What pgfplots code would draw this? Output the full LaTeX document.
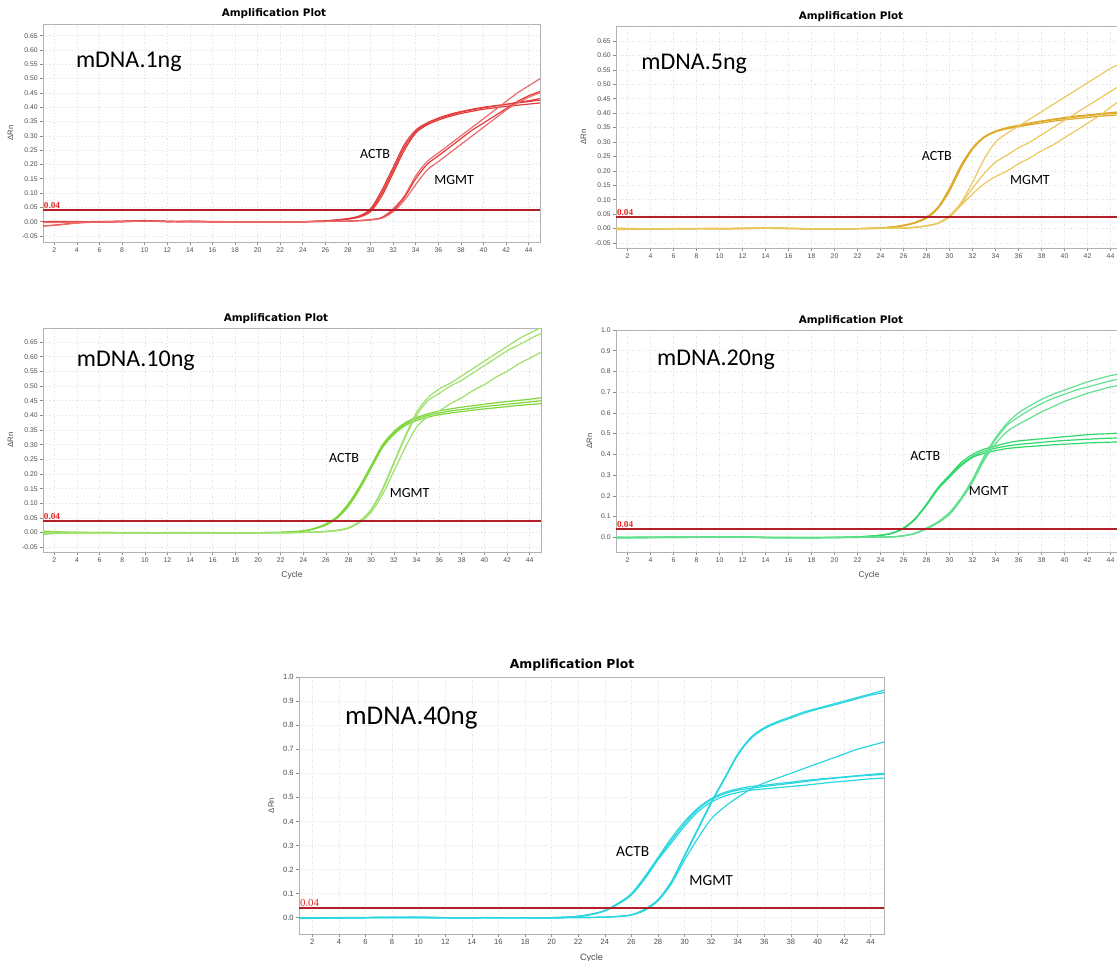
\documentclass[border=0pt]{standalone}
\usepackage{fontspec}
\setmainfont{Liberation Sans}
\newfontfamily\carlito{Carlito}
\newfontfamily\dejavu{DejaVu Sans}
\newfontfamily\libserif{Liberation Serif}
\usepackage{pgfplots}
\pgfplotsset{compat=1.18}

\definecolor{thr}{HTML}{B41E28}
\definecolor{thrtxt}{HTML}{E62828}
\definecolor{cR}{HTML}{E23C3C}
\definecolor{cRl}{HTML}{EC6A6A}
\definecolor{cY}{HTML}{DDAA2A}
\definecolor{cYl}{HTML}{EBC860}
\definecolor{cG}{HTML}{7ED63A}
\definecolor{cGl}{HTML}{9EE06A}
\definecolor{cE}{HTML}{2ED86A}
\definecolor{cEl}{HTML}{62E090}
\definecolor{cC}{HTML}{2AD6E0}

\pgfplotsset{
 amp/.style={scale only axis, xmin=1, xmax=45, xtick={2,4,...,44},
   grid=major, major grid style={black!11, line width=0.3pt, dash pattern=on 0.6pt off 1pt},
   axis line style={black!30, line width=0.4pt},
   tick style={black!45, line width=0.3pt}, major tick length=1.5pt, tick align=outside,
   xtick pos=left, ytick pos=left,
   ticklabel style={font=\fontsize{3.4}{4}\selectfont, text=black!70},
   /pgf/number format/assume math mode=true,
   xticklabel style={inner sep=1pt},
   yticklabel style={inner sep=1pt},
   ylabel={ΔRn}, ylabel style={font=\fontsize{3.9}{4}\selectfont, text=black!70},
   xlabel style={font=\fontsize{4.2}{5}\selectfont, text=black!70},
 },
 smallticks/.style={ytick={-0.05,0,0.05,0.1,0.15,0.2,0.25,0.3,0.35,0.4,0.45,0.5,0.55,0.6,0.65},
   yticklabel style={/pgf/number format/.cd, fixed, fixed zerofill, precision=2}},
 bigticks/.style={ytick={0,0.1,0.2,0.3,0.4,0.5,0.6,0.7,0.8,0.9,1.0},
   yticklabel style={/pgf/number format/.cd, fixed, fixed zerofill, precision=1}},
}

\tikzset{
 cur/.style={line width=0.6pt, smooth},
 thrline/.style={draw=thr, line width=1.1pt},
 thrlab/.style={anchor=south west, inner sep=0.3pt, yshift=0.3pt, text=thrtxt, font=\libserif\bfseries\fontsize{4.6}{5}\selectfont},
 ttl/.style={font=\dejavu\bfseries\fontsize{5.2}{6}\selectfont},
 namelab/.style={font=\carlito\fontsize{12}{14}\selectfont},
 genelab/.style={font=\carlito\fontsize{7}{8}\selectfont},
}

\begin{document}
\begin{tikzpicture}
\path[use as bounding box] (0,0) rectangle (558.5pt,480pt);
\clip (0,0) rectangle (558.5pt,480pt);

% ---------------- Panel 1: mDNA.1ng
\begin{axis}[amp, smallticks, anchor=south west, at={(21.5pt,359pt)}, width=248.5pt, height=109pt,
  ymin=-0.071, ymax=0.691]
\addplot[cur, cR] coordinates {(1,-0.015)(2,-0.012)(3,-0.008)(4,-0.004)(6,0)(8,0.001)(10,0.003)(12,0.001)(14,0.001)(16,0)(18,0)(20,0)(22,0)(24,0)(25,0.001)(26,0.003)(27,0.006)(28,0.011)(29,0.02)(30,0.045)(31,0.11)(32,0.19)(33,0.27)(34,0.32)(35,0.345)(36,0.362)(37,0.375)(38,0.385)(39,0.393)(40,0.40)(41,0.405)(42,0.41)(43,0.415)(44,0.42)(45,0.425)};
\addplot[cur, cR] coordinates {(1,0)(3,-0.002)(5,-0.002)(7,0)(9,0.002)(10,0.004)(12,0)(14,0.002)(16,0)(20,0)(24,0)(25,0.001)(26,0.002)(27,0.005)(28,0.009)(29,0.016)(30,0.035)(31,0.09)(32,0.17)(33,0.25)(34,0.31)(35,0.338)(36,0.355)(37,0.368)(38,0.378)(39,0.386)(40,0.393)(41,0.398)(42,0.403)(43,0.407)(44,0.411)(45,0.415)};
\addplot[cur, cR] coordinates {(1,0)(3,0.001)(5,0)(7,-0.001)(9,0.001)(11,0.002)(13,0)(15,0.001)(18,0)(22,0)(24,0)(25,0.001)(26,0.003)(27,0.006)(28,0.01)(29,0.018)(30,0.04)(31,0.10)(32,0.18)(33,0.26)(34,0.315)(35,0.342)(36,0.36)(37,0.372)(38,0.383)(39,0.391)(40,0.398)(41,0.404)(42,0.41)(43,0.417)(44,0.423)(45,0.43)};
\addplot[cur, cRl] coordinates {(1,-0.015)(2,-0.013)(3,-0.009)(4,-0.005)(6,-0.001)(8,0)(10,0.002)(12,0)(14,0.001)(16,0)(20,0)(24,0)(26,0.001)(28,0.002)(29,0.004)(30,0.007)(31,0.015)(32,0.045)(33,0.09)(34,0.16)(35,0.21)(36,0.24)(37,0.27)(38,0.30)(39,0.33)(40,0.36)(41,0.39)(42,0.42)(43,0.45)(44,0.475)(45,0.50)};
\addplot[cur, cR] coordinates {(1,0)(4,0)(7,0.001)(10,0.003)(13,0)(16,0)(20,0)(24,0)(26,0.001)(28,0.002)(29,0.004)(30,0.007)(31,0.014)(32,0.04)(33,0.085)(34,0.15)(35,0.20)(36,0.23)(37,0.26)(38,0.29)(39,0.32)(40,0.345)(41,0.37)(42,0.395)(43,0.42)(44,0.44)(45,0.455)};
\addplot[cur, cRl] coordinates {(1,-0.003)(4,-0.002)(7,0)(10,0.002)(13,0.001)(16,0)(20,0)(24,0)(26,0.001)(28,0.002)(29,0.003)(30,0.006)(31,0.012)(32,0.035)(33,0.075)(34,0.13)(35,0.18)(36,0.21)(37,0.24)(38,0.27)(39,0.30)(40,0.33)(41,0.36)(42,0.39)(43,0.415)(44,0.435)(45,0.45)};
\addplot[thrline] coordinates {(1,0.04)(45,0.04)};
\node[thrlab] at (axis cs:1,0.04) {0.04};
\node[namelab] at (axis cs:8.6,0.56) {mDNA.1ng};
\node[genelab] at (axis cs:30.4,0.235) {ACTB};
\node[genelab] at (axis cs:37.4,0.147) {MGMT};
\end{axis}

% ---------------- Panel 2: mDNA.5ng
\begin{axis}[amp, smallticks, anchor=south west, at={(308pt,356pt)}, width=253pt, height=111pt,
  ymin=-0.067, ymax=0.702]
\addplot[cur, cY] coordinates {(1,-0.003)(3,-0.002)(5,-0.001)(8,0)(11,0)(14,0.002)(17,0)(20,0)(22,0)(23,0.001)(24,0.003)(25,0.006)(26,0.012)(27,0.022)(28,0.04)(29,0.075)(30,0.14)(31,0.22)(32,0.28)(33,0.318)(34,0.338)(35,0.35)(36,0.358)(37,0.366)(38,0.373)(39,0.379)(40,0.385)(41,0.39)(42,0.394)(43,0.398)(44,0.402)(45,0.405)};
\addplot[cur, cY] coordinates {(1,0.002)(3,0)(5,0)(8,0.001)(11,0)(14,0.001)(17,0)(20,0)(22,0)(23,0.001)(24,0.002)(25,0.005)(26,0.011)(27,0.02)(28,0.036)(29,0.07)(30,0.13)(31,0.21)(32,0.275)(33,0.315)(34,0.335)(35,0.347)(36,0.356)(37,0.364)(38,0.371)(39,0.377)(40,0.382)(41,0.387)(42,0.391)(43,0.395)(44,0.398)(45,0.40)};
\addplot[cur, cY] coordinates {(1,0)(3,-0.001)(5,0)(8,0)(11,0.001)(14,0.002)(17,0)(20,0)(22,0)(23,0.001)(24,0.002)(25,0.005)(26,0.01)(27,0.02)(28,0.038)(29,0.072)(30,0.135)(31,0.215)(32,0.278)(33,0.316)(34,0.336)(35,0.346)(36,0.353)(37,0.36)(38,0.366)(39,0.372)(40,0.377)(41,0.381)(42,0.385)(43,0.389)(44,0.392)(45,0.395)};
\addplot[cur, cYl] coordinates {(1,0)(4,-0.001)(8,0)(12,0)(14,0.002)(18,0)(22,0)(24,0.001)(26,0.002)(27,0.005)(28,0.01)(29,0.02)(30,0.045)(31,0.09)(32,0.16)(33,0.24)(34,0.30)(35,0.33)(36,0.355)(37,0.38)(38,0.405)(39,0.43)(40,0.455)(41,0.48)(42,0.505)(43,0.53)(44,0.555)(45,0.575)};
\addplot[cur, cYl] coordinates {(1,0)(4,0)(8,0)(12,0.001)(14,0.001)(18,0)(22,0)(24,0.001)(26,0.002)(27,0.005)(28,0.01)(29,0.019)(30,0.042)(31,0.085)(32,0.14)(33,0.19)(34,0.23)(35,0.255)(36,0.28)(37,0.30)(38,0.325)(39,0.35)(40,0.375)(41,0.40)(42,0.425)(43,0.45)(44,0.475)(45,0.50)};
\addplot[cur, cYl] coordinates {(1,-0.002)(4,0)(8,0)(12,0)(14,0.002)(18,0)(22,0)(24,0.001)(26,0.002)(27,0.004)(28,0.009)(29,0.018)(30,0.04)(31,0.08)(32,0.12)(33,0.155)(34,0.18)(35,0.20)(36,0.225)(37,0.245)(38,0.27)(39,0.29)(40,0.315)(41,0.34)(42,0.365)(43,0.39)(44,0.42)(45,0.45)};
\addplot[thrline] coordinates {(1,0.04)(45,0.04)};
\node[thrlab] at (axis cs:1,0.04) {0.04};
\node[namelab] at (axis cs:7.8,0.57) {mDNA.5ng};
\node[genelab] at (axis cs:28.9,0.252) {ACTB};
\node[genelab] at (axis cs:37.0,0.169) {MGMT};
\end{axis}

% ---------------- Panel 3: mDNA.10ng
\begin{axis}[amp, smallticks, anchor=south west, at={(21.5pt,204pt)}, width=249pt, height=112pt,
  ymin=-0.066, ymax=0.698, xlabel={Cycle}]
\addplot[cur, cG] coordinates {(1,0.005)(2,0.004)(3,0.002)(5,0.001)(8,0)(11,0)(14,0)(17,0)(20,0)(22,0.001)(23,0.003)(24,0.006)(25,0.015)(26,0.03)(27,0.055)(28,0.10)(29,0.16)(30,0.23)(31,0.30)(32,0.345)(33,0.375)(34,0.393)(35,0.405)(36,0.415)(37,0.422)(38,0.428)(39,0.433)(40,0.438)(41,0.443)(42,0.447)(43,0.451)(44,0.455)(45,0.46)};
\addplot[cur, cG] coordinates {(1,-0.005)(2,-0.003)(3,-0.001)(5,0)(8,0.001)(11,0)(14,0)(17,0)(20,0)(22,0.001)(23,0.003)(24,0.006)(25,0.014)(26,0.028)(27,0.052)(28,0.095)(29,0.155)(30,0.225)(31,0.295)(32,0.34)(33,0.37)(34,0.388)(35,0.40)(36,0.408)(37,0.415)(38,0.42)(39,0.425)(40,0.43)(41,0.434)(42,0.438)(43,0.442)(44,0.446)(45,0.45)};
\addplot[cur, cG] coordinates {(1,0)(2,0.001)(3,0)(5,0)(8,0)(11,0)(14,0.001)(17,0)(20,0)(22,0.001)(23,0.002)(24,0.005)(25,0.013)(26,0.026)(27,0.05)(28,0.09)(29,0.15)(30,0.22)(31,0.29)(32,0.335)(33,0.365)(34,0.382)(35,0.394)(36,0.402)(37,0.408)(38,0.413)(39,0.418)(40,0.422)(41,0.426)(42,0.43)(43,0.434)(44,0.437)(45,0.44)};
\addplot[cur, cGl] coordinates {(1,0.003)(3,0.001)(5,0)(8,0)(11,0)(14,0)(17,0)(20,0)(23,0)(25,0.002)(26,0.004)(27,0.008)(28,0.017)(29,0.04)(30,0.08)(31,0.15)(32,0.24)(33,0.33)(34,0.41)(35,0.46)(36,0.49)(37,0.51)(38,0.535)(39,0.56)(40,0.585)(41,0.61)(42,0.635)(43,0.66)(44,0.68)(45,0.70)};
\addplot[cur, cGl] coordinates {(1,-0.003)(3,-0.001)(5,0)(8,0)(11,0)(14,0)(17,0)(20,0)(23,0)(25,0.002)(26,0.004)(27,0.008)(28,0.016)(29,0.038)(30,0.078)(31,0.145)(32,0.235)(33,0.325)(34,0.40)(35,0.45)(36,0.475)(37,0.50)(38,0.52)(39,0.545)(40,0.57)(41,0.595)(42,0.62)(43,0.64)(44,0.66)(45,0.68)};
\addplot[cur, cGl] coordinates {(1,0)(3,0)(5,0.001)(8,0)(11,0)(14,0)(17,0)(20,0)(23,0)(25,0.002)(26,0.004)(27,0.007)(28,0.015)(29,0.035)(30,0.07)(31,0.13)(32,0.21)(33,0.29)(34,0.36)(35,0.395)(36,0.415)(37,0.44)(38,0.46)(39,0.485)(40,0.505)(41,0.53)(42,0.55)(43,0.575)(44,0.595)(45,0.615)};
\addplot[thrline] coordinates {(1,0.04)(45,0.04)};
\node[thrlab] at (axis cs:1,0.04) {0.04};
\node[namelab] at (axis cs:9.2,0.585) {mDNA.10ng};
\node[genelab] at (axis cs:27.6,0.253) {ACTB};
\node[genelab] at (axis cs:33.4,0.136) {MGMT};
\end{axis}

% ---------------- Panel 4: mDNA.20ng
\begin{axis}[amp, bigticks, anchor=south west, at={(308pt,204pt)}, width=253pt, height=111pt,
  ymin=-0.071, ymax=1.0, xlabel={Cycle}]
\addplot[cur, cE] coordinates {(1,-0.003)(3,-0.002)(6,-0.001)(9,0)(12,0.001)(15,-0.002)(18,-0.002)(20,-0.001)(21,0)(22,0.002)(23,0.005)(24,0.01)(25,0.02)(26,0.045)(27,0.09)(28,0.16)(29,0.24)(30,0.30)(31,0.36)(32,0.40)(33,0.425)(34,0.44)(35,0.455)(36,0.465)(37,0.47)(38,0.475)(39,0.48)(40,0.485)(41,0.49)(42,0.495)(43,0.498)(44,0.50)(45,0.505)};
\addplot[cur, cE] coordinates {(1,0)(3,-0.001)(6,0)(9,0.001)(12,0)(15,-0.001)(18,-0.002)(20,-0.001)(21,0)(22,0.002)(23,0.005)(24,0.01)(25,0.02)(26,0.043)(27,0.088)(28,0.158)(29,0.236)(30,0.295)(31,0.35)(32,0.39)(33,0.415)(34,0.43)(35,0.44)(36,0.448)(37,0.453)(38,0.458)(39,0.463)(40,0.467)(41,0.47)(42,0.473)(43,0.476)(44,0.478)(45,0.48)};
\addplot[cur, cE] coordinates {(1,-0.002)(3,0)(6,0)(9,0)(12,0.001)(15,-0.001)(18,-0.001)(20,-0.001)(21,0)(22,0.002)(23,0.004)(24,0.009)(25,0.019)(26,0.042)(27,0.086)(28,0.155)(29,0.232)(30,0.29)(31,0.345)(32,0.385)(33,0.405)(34,0.418)(35,0.428)(36,0.434)(37,0.438)(38,0.442)(39,0.446)(40,0.449)(41,0.452)(42,0.455)(43,0.457)(44,0.459)(45,0.46)};
\addplot[cur, cEl] coordinates {(1,-0.003)(3,-0.002)(6,-0.001)(9,0)(12,0)(15,-0.002)(18,-0.002)(21,-0.001)(23,0)(24,0.001)(25,0.002)(26,0.008)(27,0.02)(28,0.045)(29,0.075)(30,0.12)(31,0.19)(32,0.28)(33,0.39)(34,0.48)(35,0.55)(36,0.60)(37,0.635)(38,0.665)(39,0.69)(40,0.71)(41,0.73)(42,0.75)(43,0.765)(44,0.78)(45,0.79)};
\addplot[cur, cEl] coordinates {(1,0)(3,0)(6,0)(9,0)(12,0)(15,-0.001)(18,-0.001)(21,-0.001)(23,0)(24,0.001)(25,0.002)(26,0.007)(27,0.019)(28,0.043)(29,0.072)(30,0.115)(31,0.185)(32,0.275)(33,0.38)(34,0.47)(35,0.54)(36,0.58)(37,0.615)(38,0.645)(39,0.67)(40,0.69)(41,0.71)(42,0.725)(43,0.74)(44,0.755)(45,0.765)};
\addplot[cur, cEl] coordinates {(1,-0.002)(3,0)(6,0)(9,0.001)(12,0)(15,-0.001)(18,-0.001)(21,0)(23,0)(24,0.001)(25,0.002)(26,0.007)(27,0.018)(28,0.04)(29,0.07)(30,0.11)(31,0.18)(32,0.265)(33,0.37)(34,0.45)(35,0.51)(36,0.545)(37,0.575)(38,0.605)(39,0.63)(40,0.655)(41,0.675)(42,0.695)(43,0.71)(44,0.725)(45,0.735)};
\addplot[thrline] coordinates {(1,0.04)(45,0.04)};
\node[thrlab] at (axis cs:1,0.04) {0.04};
\node[namelab] at (axis cs:9.7,0.858) {mDNA.20ng};
\node[genelab] at (axis cs:27.9,0.391) {ACTB};
\node[genelab] at (axis cs:33.4,0.225) {MGMT};
\end{axis}

% ---------------- Panel 5: mDNA.40ng
\begin{axis}[amp, bigticks, anchor=south west, at={(149.5pt,13pt)}, width=292.5pt, height=128.5pt,
  ymin=-0.068, ymax=1.0, xlabel={Cycle},
  ticklabel style={font=\fontsize{3.8}{4}\selectfont}, xlabel style={font=\fontsize{4.6}{5}\selectfont}]
\addplot[cur, cC] coordinates {(1,-0.004)(3,-0.002)(6,0)(9,0.001)(10,0.002)(12,-0.001)(15,0)(18,-0.001)(20,0)(21,0.002)(22,0.006)(23,0.015)(24,0.03)(25,0.06)(26,0.10)(27,0.17)(28,0.25)(29,0.33)(30,0.40)(31,0.455)(32,0.495)(33,0.52)(34,0.535)(35,0.545)(36,0.55)(37,0.557)(38,0.563)(39,0.57)(40,0.575)(41,0.58)(42,0.585)(43,0.59)(44,0.595)(45,0.60)};
\addplot[cur, cC] coordinates {(1,0)(3,-0.001)(6,0)(9,0.002)(10,0.001)(12,0)(15,0)(18,-0.001)(20,0)(21,0.002)(22,0.005)(23,0.014)(24,0.029)(25,0.058)(26,0.097)(27,0.165)(28,0.245)(29,0.32)(30,0.39)(31,0.45)(32,0.49)(33,0.515)(34,0.53)(35,0.538)(36,0.545)(37,0.552)(38,0.558)(39,0.565)(40,0.572)(41,0.578)(42,0.583)(43,0.588)(44,0.592)(45,0.595)};
\addplot[cur, cC] coordinates {(1,-0.002)(3,0)(6,0)(9,0.001)(10,0.002)(12,0)(15,0)(18,0)(20,0)(21,0.001)(22,0.005)(23,0.013)(24,0.028)(25,0.056)(26,0.094)(27,0.16)(28,0.24)(29,0.31)(30,0.38)(31,0.44)(32,0.48)(33,0.505)(34,0.52)(35,0.53)(36,0.535)(37,0.54)(38,0.545)(39,0.55)(40,0.556)(41,0.562)(42,0.567)(43,0.572)(44,0.577)(45,0.58)};
\addplot[cur, cC] coordinates {(1,-0.003)(3,-0.002)(6,0)(9,0.001)(12,-0.001)(15,0)(18,-0.001)(21,0)(23,0.001)(24,0.002)(25,0.005)(26,0.012)(27,0.035)(28,0.075)(29,0.15)(30,0.26)(31,0.37)(32,0.48)(33,0.58)(34,0.68)(35,0.75)(36,0.79)(37,0.815)(38,0.835)(39,0.855)(40,0.87)(41,0.885)(42,0.90)(43,0.915)(44,0.93)(45,0.945)};
\addplot[cur, cC] coordinates {(1,0)(3,0)(6,0.001)(9,0)(12,0)(15,0)(18,0)(21,0)(23,0.001)(24,0.002)(25,0.005)(26,0.011)(27,0.033)(28,0.072)(29,0.146)(30,0.255)(31,0.365)(32,0.475)(33,0.575)(34,0.675)(35,0.745)(36,0.785)(37,0.81)(38,0.83)(39,0.85)(40,0.866)(41,0.88)(42,0.895)(43,0.91)(44,0.925)(45,0.935)};
\addplot[cur, cC] coordinates {(1,-0.002)(3,0)(6,0)(9,0.001)(12,0)(15,0)(18,0)(21,0)(23,0.001)(24,0.002)(25,0.005)(26,0.011)(27,0.03)(28,0.07)(29,0.14)(30,0.24)(31,0.33)(32,0.41)(33,0.46)(34,0.50)(35,0.535)(36,0.56)(37,0.58)(38,0.60)(39,0.62)(40,0.64)(41,0.66)(42,0.68)(43,0.70)(44,0.715)(45,0.73)};
\addplot[thrline] coordinates {(1,0.04)(45,0.04)};
\node[thrlab, font=\libserif\fontsize{5.4}{6}\selectfont] at (axis cs:1,0.04) {0.04};
\node[namelab, font=\carlito\fontsize{13.5}{15}\selectfont] at (axis cs:9.45,0.829) {mDNA.40ng};
\node[genelab, font=\carlito\fontsize{7.7}{9}\selectfont] at (axis cs:26.1,0.275) {ACTB};
\node[genelab, font=\carlito\fontsize{7.7}{9}\selectfont] at (axis cs:32.0,0.154) {MGMT};
\end{axis}

% titles
\node[ttl] at (137pt,473pt) {Amplification Plot};
\node[ttl] at (425.5pt,471.5pt) {Amplification Plot};
\node[ttl] at (138pt,320.5pt) {Amplification Plot};
\node[ttl] at (425.5pt,319.5pt) {Amplification Plot};
\node[ttl, font=\dejavu\bfseries\fontsize{6.2}{7}\selectfont] at (286pt,147.5pt) {Amplification Plot};
\end{tikzpicture}
\end{document}
